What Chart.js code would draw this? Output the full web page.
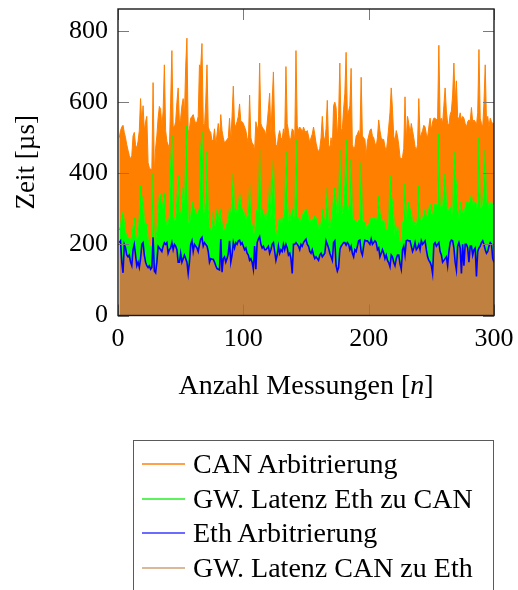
<!DOCTYPE html>
<html><head><meta charset="utf-8">
<script src="https://cdn.jsdelivr.net/npm/chart.js@4.4.1/dist/chart.umd.min.js"></script>
<style>
html,body{margin:0;padding:0;background:#fff;}
#wrap{position:relative;width:518px;height:590px;overflow:hidden;}
canvas{position:absolute;left:0;top:0;}
#legend{position:absolute;left:133px;top:440px;width:361px;height:170px;border:1px solid #5a5a5a;box-sizing:border-box;font-family:"Liberation Serif",serif;font-size:28px;color:#000;}
.row{position:absolute;left:0;height:34px;width:100%;}
.sw{position:absolute;left:8px;top:16px;width:43px;height:2px;}
.lbl{position:absolute;left:59px;top:0;white-space:nowrap;line-height:34px;}
</style></head><body>
<div id="wrap"><canvas id="c" width="518" height="590"></canvas><div id="legend"></div></div>
<script>
// x tick labels and y tick labels
const xTicks = [0, 100, 200, 300];
const yTicks = [0, 200, 400, 600, 800];
// measurement number of each sample (1..300)
const messungen = Array.from({length: 300}, (_, i) => i + 1);

// upper edge of the orange band (CAN Arbitrierung, stacked total) in µs
const canArbTop = [
500,520,530,535,515,500,480,465,450,440,
450,505,515,480,470,490,520,610,540,590,
520,545,560,430,415,412,410,655,400,470,
505,555,588,580,530,575,705,520,490,480,
470,600,745,530,530,545,600,640,540,555,
590,610,560,700,780,515,525,555,560,565,
550,540,545,560,705,700,765,540,530,600,
705,530,520,515,490,495,525,480,510,540,
500,565,520,500,485,490,495,500,555,490,
560,645,530,535,545,560,595,545,545,540,
530,520,500,485,620,500,485,480,465,545,
530,520,710,540,530,525,520,505,540,580,
625,510,600,685,520,480,475,505,520,500,
495,525,505,700,540,520,490,500,525,520,
490,745,535,520,530,525,515,530,520,515,
520,505,485,500,510,530,510,485,470,460,
470,500,560,505,490,525,605,480,470,500,
470,590,600,585,500,560,710,520,525,580,
625,740,560,575,590,695,480,470,475,505,
510,520,500,670,505,500,495,450,490,505,
520,525,505,500,485,475,500,550,520,500,
495,495,475,460,490,530,570,640,580,505,
490,520,505,480,445,440,445,470,615,490,
560,540,510,540,520,500,475,465,480,610,
500,510,520,535,530,510,500,530,555,520,
545,555,555,550,555,760,550,555,540,590,
640,575,540,535,565,575,620,710,600,660,
560,550,570,550,560,555,540,530,545,550,
545,585,545,550,545,535,570,748,555,540,
530,600,705,545,560,530,555,545,540,540
];

// upper edge of the green band (GW. Latenz Eth zu CAN, stacked total) in µs
const gwEthCanTop = [
240,250,285,290,265,235,225,215,220,210,
225,250,275,230,210,220,280,365,290,335,
265,250,260,215,200,195,200,400,190,205,
240,290,340,340,320,300,345,270,255,260,
280,420,505,285,270,265,330,395,300,280,
310,360,300,450,535,265,255,280,320,305,
300,290,285,300,290,470,515,300,280,350,
460,300,250,240,245,290,245,260,300,280,
250,300,260,245,240,250,260,270,305,280,
330,400,280,300,290,300,345,315,300,295,
285,265,280,285,370,270,255,240,222,300,
295,290,465,275,300,290,280,265,290,300,
380,270,350,440,280,235,225,265,275,260,
265,280,300,460,340,270,260,285,300,285,
265,495,280,275,260,270,280,290,295,300,
295,275,260,270,265,275,280,275,265,250,
245,260,300,280,260,300,360,250,240,270,
280,340,360,320,270,300,465,280,290,320,
370,495,315,300,285,440,280,270,270,260,
265,270,265,430,270,265,260,245,255,255,
265,275,275,270,275,265,280,335,290,270,
265,270,250,240,245,260,395,340,320,280,
225,240,255,230,210,205,260,270,370,250,
320,320,300,295,260,250,265,250,280,365,
265,270,275,285,300,275,285,300,315,290,
280,310,315,310,315,510,300,310,305,360,
400,320,290,300,305,305,270,460,400,370,
300,270,320,285,295,290,305,320,310,320,
325,340,310,315,320,315,290,500,300,305,
310,380,465,310,320,300,315,320,310,310
];

// blue line (Eth Arbitrierung, stacked on GW. Latenz CAN zu Eth) in µs
const ethArbLine = [
205,210,150,120,200,190,170,165,170,150,
140,185,200,170,140,150,135,160,200,205,
170,150,140,135,140,130,135,220,125,120,
150,195,190,185,180,195,205,200,205,175,
185,190,205,185,200,195,185,150,150,175,
150,160,170,160,150,118,150,200,210,180,
200,195,190,180,200,215,220,195,205,200,
195,180,150,160,158,158,150,140,132,130,
128,215,122,160,165,150,160,175,210,150,
170,205,190,205,200,210,212,200,205,195,
185,190,175,170,155,160,150,130,195,130,
205,215,222,200,190,195,185,185,190,195,
175,185,200,205,180,155,170,195,175,185,
180,200,185,200,190,170,175,160,118,200,
200,205,200,195,185,200,195,205,210,215,
200,195,180,175,185,170,160,165,160,155,
170,175,165,170,175,210,200,190,175,165,
155,205,210,140,125,135,185,195,200,205,
205,198,205,200,185,195,175,165,185,180,
195,210,212,180,170,195,212,210,210,205,
200,215,200,205,210,205,185,190,165,175,
185,175,160,170,155,148,137,170,165,150,
140,160,170,170,145,130,185,195,170,210,
212,210,210,195,180,190,205,185,190,200,
185,210,200,205,210,185,165,155,150,140,
118,200,205,195,200,205,180,170,150,155,
160,165,140,180,205,212,210,190,150,128,
195,205,190,118,200,140,200,200,190,150,
195,195,170,185,190,110,180,190,195,205,
210,200,185,175,180,195,205,200,160,150
];
// the brown band (GW. Latenz CAN zu Eth) reaches up to the blue line
const gwCanEthTop = ethArbLine;

const seriesNames = ['CAN Arbitrierung', 'GW. Latenz Eth zu CAN', 'Eth Arbitrierung', 'GW. Latenz CAN zu Eth'];
const legendColors = ['#ffa04a', '#5cf25c', '#6b6bff', '#dcb996'];
const FONT = '"Liberation Serif", "Times New Roman", serif';
const xTitleParts = [['Anzahl Messungen [', 'normal'], ['n', 'italic'], [']', 'normal']];

const framePlugin = {
  id: 'frame',
  afterDatasetsDraw(chart) {
    const {ctx, chartArea: a, scales: {x, y}} = chart;
    ctx.save();
    ctx.strokeStyle = '#7a7a7a';
    ctx.lineWidth = 1;
    ctx.beginPath();
    yTicks.forEach(v => {
      const py = Math.round(y.getPixelForValue(v)) + 0.5;
      ctx.moveTo(a.left, py); ctx.lineTo(a.left + 11, py);
      ctx.moveTo(a.right, py); ctx.lineTo(a.right - 11, py);
    });
    xTicks.forEach(v => {
      const px = Math.round(x.getPixelForValue(v)) + 0.5;
      ctx.moveTo(px, a.bottom); ctx.lineTo(px, a.bottom - 11);
      ctx.moveTo(px, a.top); ctx.lineTo(px, a.top + 11);
    });
    ctx.stroke();
    ctx.strokeStyle = '#1a1a1a';
    ctx.lineWidth = 1.4;
    ctx.strokeRect(a.left, a.top, a.right - a.left, a.bottom - a.top);
    ctx.restore();
  },
  afterDraw(chart) {
    // x-axis title with italic "n", centred under the x scale
    const {ctx, scales: {x}} = chart;
    const size = 28;
    ctx.save();
    ctx.fillStyle = '#000';
    ctx.textBaseline = 'middle';
    let total = 0;
    xTitleParts.forEach(([t, st]) => { ctx.font = st + ' ' + size + 'px ' + FONT; total += ctx.measureText(t).width; });
    let cx = (x.left + x.right) / 2 - total / 2;
    const cy = x.bottom - size * 1.2 / 2 - 2;
    xTitleParts.forEach(([t, st]) => {
      ctx.font = st + ' ' + size + 'px ' + FONT;
      ctx.fillText(t, cx, cy);
      cx += ctx.measureText(t).width;
    });
    ctx.restore();
  }
};

const chart = new Chart(document.getElementById('c'), {
  type: 'line',
  data: {
    labels: messungen,
    datasets: [
      {label: seriesNames[0], data: canArbTop, borderColor: '#ff8000', backgroundColor: '#ff8000', borderWidth: 1, fill: '+1', order: 1},
      {label: seriesNames[1], data: gwEthCanTop, borderColor: '#00ff00', backgroundColor: '#00ff00', borderWidth: 1, fill: '+1', order: 1},
      {label: seriesNames[2], data: ethArbLine, borderColor: '#0000ff', backgroundColor: '#0000ff', borderWidth: 1.6, fill: false, order: 0},
      {label: seriesNames[3], data: gwCanEthTop, borderColor: '#bf8040', backgroundColor: '#bf8040', borderWidth: 0, fill: 'origin', order: 2}
    ]
  },
  options: {
    responsive: false,
    animation: false,
    devicePixelRatio: 1,
    layout: {padding: {left: 0, top: 9, right: 24, bottom: 184.5}},
    elements: {point: {radius: 0}, line: {tension: 0}},
    plugins: {
      legend: {display: false},
      tooltip: {enabled: false},
      filler: {drawTime: 'beforeDatasetsDraw'}
    },
    scales: {
      x: {
        type: 'linear', min: 0, max: 300,
        afterFit(s) { s.height = 90; s.paddingLeft = 0; s.paddingRight = 0; },
        afterBuildTicks(s) { s.ticks = xTicks.map(v => ({value: v})); },
        grid: {display: false, drawTicks: false},
        border: {display: false},
        ticks: {padding: 8, color: '#000', maxRotation: 0, font: {family: FONT, size: 26}},
        title: {display: true, text: 'Anzahl Messungen [n]', color: 'rgba(0,0,0,0)', font: {family: FONT, size: 28}, padding: {top: 0, bottom: 2}}
      },
      y: {
        type: 'linear', min: 0, max: 862,
        afterFit(s) { s.width = 118; s.paddingTop = 0; s.paddingBottom = 0; },
        afterBuildTicks(s) { s.ticks = yTicks.map(v => ({value: v})); },
        grid: {display: false, drawTicks: false},
        border: {display: false},
        ticks: {padding: 10, color: '#000', font: {family: FONT, size: 26}},
        title: {display: true, text: 'Zeit [µs]', color: '#000', font: {family: FONT, size: 27}, padding: {top: 11, bottom: 0}}
      }
    }
  },
  plugins: [framePlugin]
});

// HTML legend built from the chart's datasets
const leg = document.getElementById('legend');
chart.data.datasets.forEach((ds, i) => {
  const row = document.createElement('div');
  row.className = 'row';
  row.style.top = (6 + i * 34.6) + 'px';
  const sw = document.createElement('div');
  sw.className = 'sw';
  sw.style.background = legendColors[i];
  const lbl = document.createElement('span');
  lbl.className = 'lbl';
  lbl.textContent = ds.label;
  row.appendChild(sw); row.appendChild(lbl);
  leg.appendChild(row);
});
</script>
</body></html>
